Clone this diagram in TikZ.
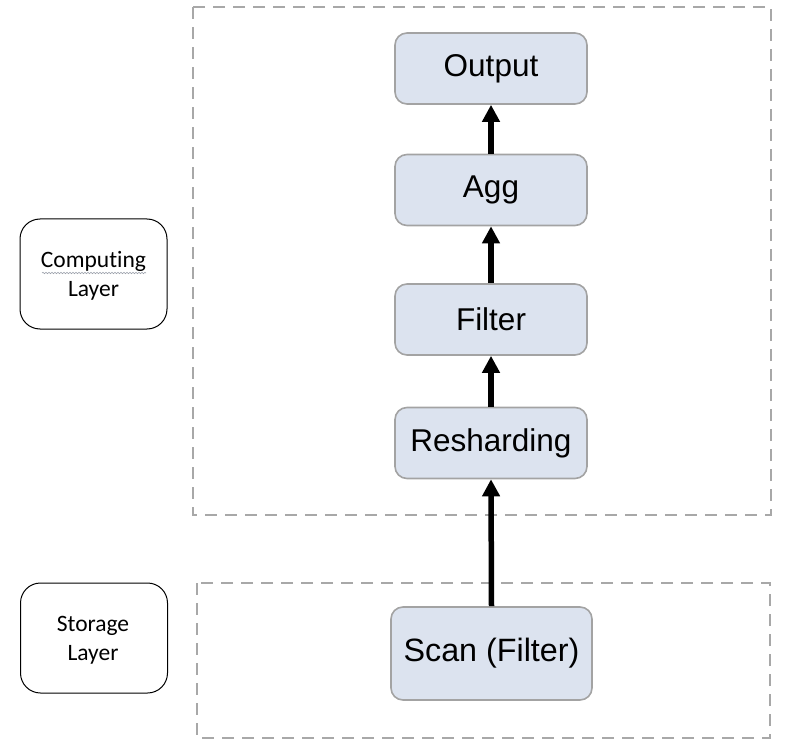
\documentclass[tikz,border=0pt]{standalone}
\usepackage{fontspec}
\setmainfont{Liberation Sans}
\newfontfamily\calib[Ligatures=NoCommon]{Carlito}
\usetikzlibrary{arrows.meta,decorations.pathmorphing}
\definecolor{nodefill}{HTML}{DCE3EF}
\definecolor{nodeline}{HTML}{A3A3A3}
\definecolor{dashline}{HTML}{A8A8A8}
\definecolor{squig}{HTML}{9AA0AA}
\begin{document}
\begin{tikzpicture}[x=1pt,y=-1pt,
  opbox/.style={draw=nodeline, line width=1.6pt, fill=nodefill, rounded corners=12pt,
    minimum width=192pt, minimum height=71pt, inner sep=0pt, text=black,
    font=\fontsize{31.5}{36}\selectfont},
  layerbox/.style={draw=black, line width=1pt, rounded corners=20pt,
    minimum width=147pt, minimum height=110pt, inner sep=0pt},
  layertext/.style={inner sep=0pt, align=center,
    font=\calib\fontsize{23.5}{29}\selectfont},
  region/.style={draw=dashline, line width=2pt, dash pattern=on 12pt off 8pt},
  flow/.style={-{Triangle[width=17pt,length=17pt]}, line width=5.5pt, black}]
\useasboundingbox (0,0) rectangle (790,746);
% regions
\draw[region] (193,7) rectangle (771,515);
\draw[region] (197,583) rectangle (770,738);
% layer labels
\node[layerbox] (comp) at (93.5,274) {};
\node[layertext] (compt) at (93.5,276) {Computing\\Layer};
\node[layerbox] (stor) at (94,638) {};
\node[layertext] (stort) at (93,640) {Storage\\Layer};
\coordinate (sqa) at (42,273);
\coordinate (sqb) at (146,273);
\draw[squig, line width=0.6pt, decorate, decoration={snake, amplitude=0.7pt, segment length=3pt}] (sqa) -- (sqb);
% operators
\node[opbox] (out) at (491,68.5) {Output};
\node[opbox] (agg) at (491,190) {Agg};
\node[opbox] (fil) at (491,319.5) {Filter};
\node[opbox] (resh) at (491,443) {Resharding};
\node[opbox, minimum width=201pt, minimum height=93pt, font=\fontsize{32.3}{36}\selectfont] (scan) at (491.5,653.5) {Scan (Filter)};
% arrows
\draw[flow] (agg.north) -- (out.south);
\draw[flow] (fil.north) -- (agg.south);
\draw[flow] (resh.north) -- (fil.south);
\draw[flow] (scan.north) -- (resh.south);
\end{tikzpicture}
\end{document}
